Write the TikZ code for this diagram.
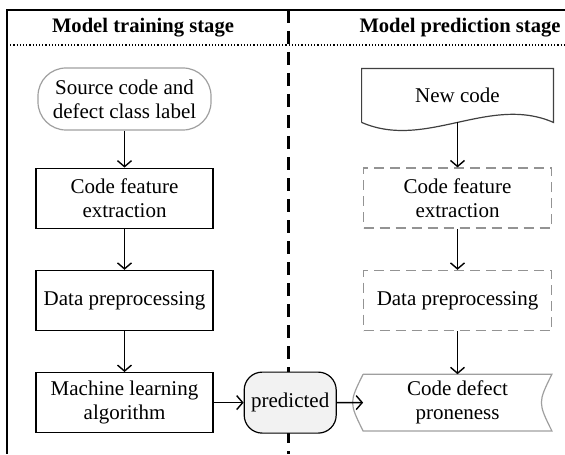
\documentclass[tikz,border=0pt]{standalone}
\usepackage{fontspec}
\setmainfont{Liberation Serif}
\usetikzlibrary{positioning,arrows.meta}

\begin{document}
\begin{tikzpicture}[
	node distance=20.5pt,
	font=\fontsize{10.5}{12}\selectfont,
	every node/.style={align=center, inner sep=1pt},
	box/.style={draw, line width=0.6pt, minimum width=88.5pt, minimum height=30pt},
	dbox/.style={draw=gray!85, dash pattern=on 5pt off 3pt, line width=0.7pt, minimum width=94pt, minimum height=30pt},
	term/.style={draw=gray!75, rounded corners=14pt, line width=0.6pt, minimum width=86.5pt, minimum height=31pt},
	flow/.style={-{Straight Barb[length=3pt,width=7pt]}, line width=0.7pt},
	heading/.style={font=\fontsize{10.3}{12}\selectfont\bfseries},
	]
	\useasboundingbox (0,0) rectangle (282.5pt,-227pt);
	
	\draw[line width=1pt] (282.5pt,-5pt) -- (3.5pt,-5pt) -- (3.5pt,-227pt);
	\draw[densely dotted, line width=0.6pt] (3.5pt,-22.5pt) -- (282.5pt,-22.5pt);
	\draw[line width=1.1pt, dash pattern=on 6.5pt off 4pt] (144.25pt,-5pt) -- (144.25pt,-227pt);
	
	\node[heading] (trainhead) at (71.5pt,-14pt) {Model training stage};
	\node[heading] (predhead) at (230pt,-14pt) {Model prediction stage};
	
	\node[term] (src) at (62.25pt,-49.5pt) {Source code and\\defect class label};
	\node[box, below=18.5pt of src] (cfe) {Code feature\\extraction};
	\node[box, below=of cfe] (dp) {Data preprocessing};
	\node[box, below=of dp] (ml) {Machine learning\\algorithm};
	\node[draw, line width=0.6pt, fill=gray!10, rounded corners=9pt, minimum width=46pt, minimum height=30.5pt, right=15pt of ml] (pred) {predicted};
	
	\node[minimum width=95.5pt, minimum height=26.5pt] (newcode) at (228.75pt,-47.75pt) {New code};
	\node[dbox, below=22.5pt of newcode] (rcfe) {Code feature\\extraction};
	\node[dbox, below=of rcfe] (rdp) {Data preprocessing};
	\node[minimum width=94pt, minimum height=28pt, below=21.5pt of rdp] (cd) {Code defect\\proneness};
	
	\draw[line width=0.6pt, draw=black!75] (newcode.south west) -- (newcode.north west) -- (newcode.north east) -- (newcode.south east)
		.. controls ([shift={(-32pt,14pt)}]newcode.south east) and ([shift={(32pt,-14pt)}]newcode.south west) .. (newcode.south west);
	\draw[line width=0.6pt, draw=gray!75] (cd.north west) -- (cd.north east)
		.. controls ([xshift=-7pt]cd.east) .. (cd.south east) -- (cd.south west)
		.. controls ([xshift=-7pt]cd.west) .. (cd.north west);
	
	\draw[flow] (src) -- (cfe);
	\draw[flow] (cfe) -- (dp);
	\draw[flow] (dp) -- (ml);
	\draw[flow] (ml) -- (pred);
	\draw[flow] (pred) -- (cd);
	\draw[flow] (newcode) -- (rcfe);
	\draw[flow] (rcfe) -- (rdp);
	\draw[flow] (rdp) -- (cd);
\end{tikzpicture}
\end{document}
